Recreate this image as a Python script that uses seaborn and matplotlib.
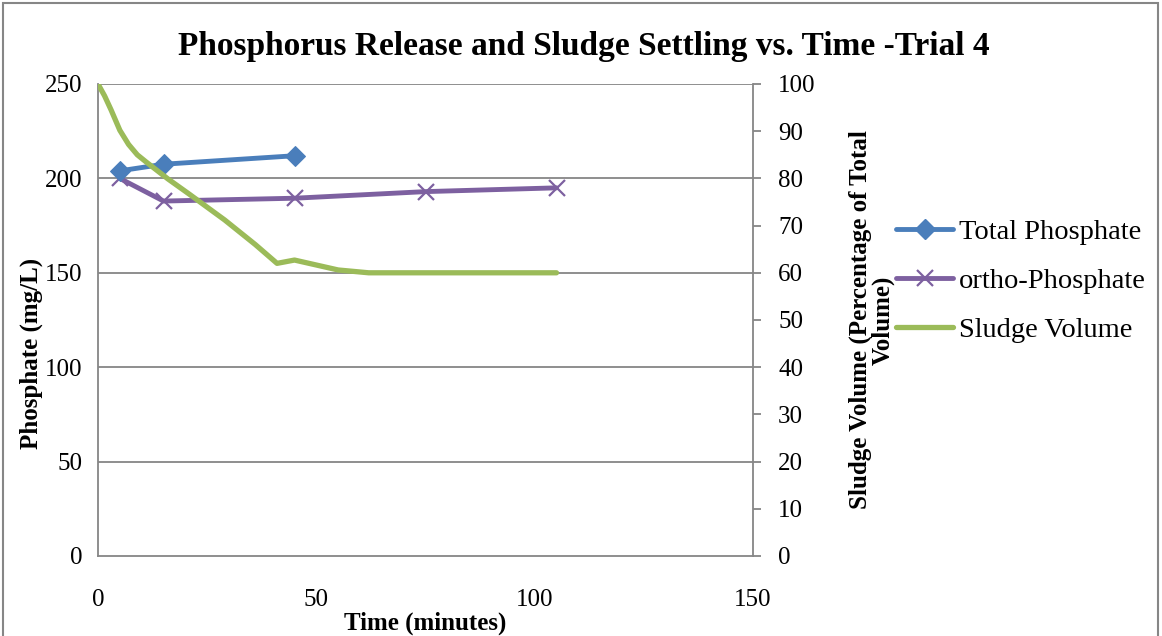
import matplotlib
matplotlib.use("Agg")
import matplotlib.pyplot as plt
import seaborn as sns
import pandas as pd
from matplotlib.patches import Rectangle
from matplotlib.lines import Line2D

sns.set_style("white")
plt.rcParams['font.family'] = ['Liberation Serif', 'DejaVu Serif']
plt.rcParams['text.color'] = 'black'
plt.rcParams['axes.labelcolor'] = 'black'

# Data
tp_time = [5, 15, 45]
tp_vals = [204, 207.5, 212]
op_time = [5, 15, 45, 75, 105]
op_vals = [200, 188, 189.5, 193, 195]
sv_time = [0, 1.5, 3, 5, 7, 9, 11, 16, 21, 29, 36, 41, 45, 55, 62, 75, 105]
sv_vals = [100, 97.5, 94.5, 90.2, 87.2, 85.0, 83.5, 79.9, 76.6, 71.2, 66.0, 62, 62.7, 60.6, 60, 60, 60]

left_ticks = [0, 50, 100, 150, 200, 250]
right_ticks = [0, 10, 20, 30, 40, 50, 60, 70, 80, 90, 100]
x_ticks = [0, 50, 100, 150]

c_tp = "#4A7EBB"
c_op = "#7D60A0"
c_sv = "#9BBB59"
grid_c = "#868686"

fig = plt.figure(figsize=(11.62, 6.36), dpi=100)
ax = fig.add_axes([98/1162, 80/636, (753-98)/1162, (556-84)/636])
ax2 = ax.twinx()

tp = pd.DataFrame({"t": tp_time, "v": tp_vals})
op = pd.DataFrame({"t": op_time, "v": op_vals})
sv = pd.DataFrame({"t": sv_time, "v": sv_vals})

sns.lineplot(data=tp, x="t", y="v", ax=ax, color=c_tp, lw=3.5, marker="D",
             markersize=10, markeredgecolor=c_tp, zorder=5, legend=False)
sns.lineplot(data=op, x="t", y="v", ax=ax, color=c_op, lw=3.5, marker="x",
             markersize=12, markeredgewidth=1.6, markeredgecolor=c_op, zorder=4, legend=False)
sns.lineplot(data=sv, x="t", y="v", ax=ax2, color=c_sv, lw=3.8, zorder=3, legend=False,
             solid_capstyle="round", solid_joinstyle="round")

ax.set_xlim(0, 150)
ax.set_ylim(0, 250)
ax2.set_ylim(0, 100)
ax.set_xticks(x_ticks)
ax.set_yticks(left_ticks)
ax2.set_yticks(right_ticks)

for y in left_ticks[1:]:
    ax.axhline(y, color=grid_c, lw=1.3, zorder=1)

for a in (ax, ax2):
    for s in a.spines.values():
        s.set_visible(False)
ax.spines['left'].set_visible(True)
ax.spines['left'].set_color(grid_c)
ax.spines['left'].set_linewidth(1.3)
ax.spines['bottom'].set_visible(True)
ax.spines['bottom'].set_color(grid_c)
ax.spines['bottom'].set_linewidth(1.3)
ax2.spines['right'].set_visible(True)
ax2.spines['right'].set_color(grid_c)
ax2.spines['right'].set_linewidth(1.3)

ax.tick_params(axis='both', length=0, labelsize=18, colors='black')
ax.tick_params(axis='x', pad=24)
ax.tick_params(axis='y', pad=11)
ax2.tick_params(axis='y', length=6, width=1.3, color=grid_c, direction='out',
                labelsize=18, labelcolor='black', pad=12)

ax.set_xlabel("Time (minutes)", fontsize=18, fontweight='bold', labelpad=0, color='black')
ax.set_ylabel("Phosphate (mg/L)", fontsize=18, fontweight='bold', color='black')
ax.yaxis.set_label_coords(-55/655, 0.43)
ax2.set_ylabel("Sludge Volume (Percentage of Total\nVolume)", fontsize=18,
               fontweight='bold', linespacing=0.95, color='black')
ax2.yaxis.set_label_coords(1 + 96/655, 0.5)

fig.text(0.502, 1 - 47/636, "Phosphorus Release and Sludge Settling vs. Time -Trial 4",
         ha='center', va='center', fontsize=24, fontweight='bold', color='black')

handles = [
    Line2D([], [], color=c_tp, lw=3.5, marker="D", markersize=10),
    Line2D([], [], color=c_op, lw=3.5, marker="x", markersize=12, markeredgewidth=1.6),
    Line2D([], [], color=c_sv, lw=3.8),
]
labels = ["Total Phosphate", "ortho-Phosphate", "Sludge Volume"]
leg = fig.legend(handles, labels, loc='center left', bbox_to_anchor=(885/1162, 1 - 281/636),
                 frameon=False, fontsize=20.5, handlelength=2.0, handletextpad=0.2,
                 labelspacing=0.8, borderaxespad=0)
for t in leg.get_texts():
    t.set_color('black')

fig.add_artist(Rectangle((3/1162, -0.02), 1 - 7/1162, 1.02 - 3/636, transform=fig.transFigure,
                         fill=False, edgecolor=grid_c, lw=1.5))

fig.savefig("out.png", dpi=100)
